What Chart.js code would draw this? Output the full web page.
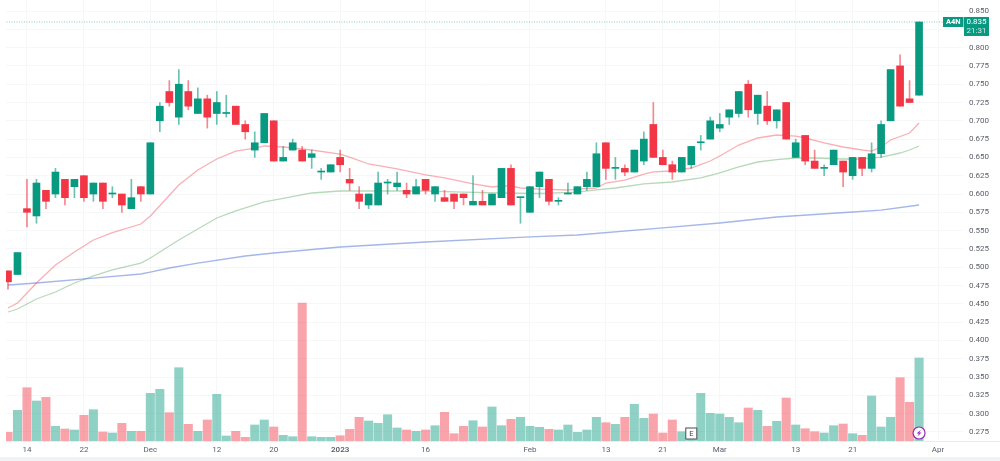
<!DOCTYPE html>
<html>
<head>
<meta charset="utf-8">
<title>A4N daily</title>
<script src="https://cdn.jsdelivr.net/npm/chart.js@4"></script>
<style>
  html, body { margin: 0; padding: 0; background: #fff; }
  canvas { display: block; }
</style>
</head>
<body>
<canvas id="chart" width="1000" height="461"></canvas>
<script>
// Daily sessions, 10 Nov 2022 to 30 Mar 2023, one entry per trading day.
const opens = [.495,.49,.58,.57,.605,.60,.62,.61,.625,.60,.615,.60,.60,.58,.61,.60,.70,.74,.705,.74,.71,.73,.71,.71,.72,.695,.66,.67,.70,.645,.66,.66,.65,.63,.63,.65,.62,.60,.585,.585,.615,.61,.605,.60,.62,.60,.595,.60,.60,.585,.59,.585,.595,.635,.595,.575,.61,.62,.59,.60,.60,.61,.61,.67,.635,.635,.63,.645,.695,.65,.64,.63,.64,.67,.675,.69,.705,.71,.75,.71,.72,.70,.725,.65,.68,.645,.635,.64,.645,.625,.65,.635,.655,.70,.775,.73,.735];
const highs = [.495,.52,.62,.62,.605,.635,.62,.62,.625,.615,.615,.61,.60,.62,.61,.67,.725,.755,.77,.755,.745,.735,.74,.735,.72,.70,.685,.71,.70,.665,.675,.665,.66,.635,.64,.66,.635,.61,.60,.63,.62,.63,.615,.62,.62,.61,.605,.60,.60,.625,.605,.60,.635,.64,.595,.61,.63,.62,.595,.615,.61,.63,.67,.67,.65,.64,.66,.685,.725,.66,.645,.65,.665,.68,.705,.71,.715,.74,.755,.735,.74,.715,.725,.675,.68,.66,.64,.66,.645,.65,.65,.67,.70,.77,.79,.755,.835];
const lows = [.47,.49,.555,.56,.58,.595,.585,.595,.59,.59,.58,.595,.575,.58,.59,.60,.685,.72,.695,.715,.71,.69,.695,.705,.695,.675,.65,.67,.645,.645,.66,.645,.635,.62,.63,.63,.605,.58,.58,.585,.60,.605,.595,.60,.60,.59,.59,.58,.585,.585,.585,.585,.595,.585,.56,.575,.595,.585,.585,.60,.60,.605,.61,.62,.62,.625,.63,.64,.65,.64,.62,.63,.635,.66,.675,.685,.695,.705,.705,.695,.695,.69,.675,.65,.64,.635,.625,.64,.61,.62,.625,.63,.65,.70,.72,.725,.735];
const closes = [.48,.52,.575,.615,.59,.63,.595,.62,.595,.615,.59,.60,.585,.595,.60,.67,.72,.725,.75,.72,.73,.705,.725,.71,.695,.685,.67,.71,.645,.65,.67,.645,.655,.63,.64,.64,.615,.59,.60,.615,.615,.615,.60,.61,.605,.61,.59,.59,.595,.59,.585,.60,.635,.585,.595,.61,.63,.59,.59,.60,.61,.62,.655,.635,.635,.63,.66,.675,.65,.64,.63,.65,.665,.67,.70,.695,.715,.74,.715,.735,.70,.715,.675,.67,.645,.635,.635,.66,.63,.65,.635,.655,.695,.77,.72,.725,.835];
const volumes = [8.7,30.7,53.3,40,43.7,14.7,12,11,25.7,31.3,9,8,17.7,9.7,9.7,47.7,51.7,28.3,73.3,16.7,9.7,21,46.7,5,9.7,3.7,16,21,14,5.7,4.3,138,4.3,3.7,3.7,5.3,11.7,23.7,20,17.7,26.3,13,11,9.7,11,15.3,28.7,7.3,14.7,20.3,14,34,15.3,21.7,23.7,14.7,13.7,11.7,11,16,8.7,11,23.7,18.3,16.7,23.7,36.7,22.7,27,8,21,9.3,8,47.7,27.7,27,23.7,18.3,33,30.7,14.7,19.7,43,16,12.3,9.3,8,15.3,17,7.3,5.7,45,14,23.7,63.3,38.7,83];

// Moving averages, sampled at the sessions listed beside each series.
const fastMaBars = [0,1,3,5,7,9,11,14,15,18,20,22,24,26,27,29,32,35,36,38,41,44,46,49,51,52,53,54,56,59,60,62,63,65,67,68,70,72,74,75,77,79,81,83,84,86,88,90,91,92,93,95,96];
const fastMa = [.4443,.4511,.4784,.503,.5208,.5372,.5471,.559,.57,.6123,.6328,.6478,.6587,.6628,.6656,.6642,.6601,.6546,.6505,.641,.6342,.626,.6219,.6137,.6096,.6109,.6109,.6082,.6068,.6055,.6068,.6082,.615,.6191,.6273,.6301,.6314,.6355,.6451,.6519,.6669,.6765,.6806,.6792,.6765,.6697,.6642,.6601,.6587,.6642,.6738,.6833,.697];
const midMaBars = [0,1,3,5,7,9,11,14,15,18,20,22,24,27,29,32,35,38,41,44,48,52,56,60,62,64,67,70,73,75,77,79,81,83,85,88,90,92,94,95,96];
const midMa = [.4388,.4429,.4566,.4661,.4784,.488,.4962,.5057,.5126,.5372,.5522,.5672,.5768,.5891,.5939,.6014,.6041,.6041,.6041,.6041,.6027,.6014,.6007,.6027,.6055,.6082,.6137,.6164,.6219,.6287,.6369,.6437,.6471,.6492,.6492,.6478,.6478,.6505,.656,.6601,.6656];
const slowMaBars = [0,3,9,14,15,17,20,25,28,35,44,55,60,69,75,81,89,92,96];
const slowMa = [.4757,.4784,.4852,.4907,.4934,.4989,.5057,.5153,.5194,.5276,.5344,.5413,.544,.5536,.5604,.5686,.5754,.5781,.585];

// Time axis labels and the sessions they sit on.
const tickBars = [2,8,15,22,28,35,44,55,63,69,75,83,89,98];
const tickLabels = ['14','22','Dec','12','20','2023','16','Feb','13','21','Mar','13','21','Apr'];

const symbol = 'A4N';
const lastPriceText = '0.835';
const countdownText = '21:31';
const earningsBar = 72;
const flashBar = 96;

const UP = '#089981', DOWN = '#F23645';
const UP_VOL = 'rgba(8,153,129,0.45)', DOWN_VOL = 'rgba(242,54,69,0.45)';
const UP_WICK = 'rgba(8,153,129,0.6)', DOWN_WICK = 'rgba(242,54,69,0.6)';
const isUp = closes.map((c, i) => c >= opens[i]);
const FONT = 'Roboto, "Liberation Sans", sans-serif';
const TEXT = '#5a5e68';
const GRID = '#f6f7f9';

const maSeries = (bars, values) => bars.map((b, i) => ({ x: b, y: values[i] }));

// Trims, last-price tags and session markers that sit on top of the panes.
const decorations = {
  id: 'decorations',
  beforeDraw(chart) {
    const { ctx, width, height } = chart;
    ctx.save();
    ctx.fillStyle = '#fff';
    ctx.fillRect(0, 0, width, height);
    ctx.fillStyle = '#f1f2f4';
    ctx.fillRect(0, 457, width, 4);
    ctx.restore();
  },
  afterDraw(chart) {
    const { ctx, scales, chartArea } = chart;
    const px = scales.x, py = scales.y;
    const yLast = py.getPixelForValue(closes[closes.length - 1]);
    ctx.save();

    // Separator between the panes and the time axis.
    ctx.fillStyle = '#ececf0';
    ctx.fillRect(chartArea.left, chartArea.bottom, chartArea.right - chartArea.left + 37, 1);

    // Symbol tag and last-price tag.
    ctx.fillStyle = UP;
    ctx.fillRect(943, yLast - 5, 20.5, 10);
    ctx.fillRect(964, yLast - 5, 25, 19);
    ctx.fillStyle = '#fff';
    ctx.textBaseline = 'middle';
    ctx.textAlign = 'center';
    ctx.font = 'bold 7.5px ' + FONT;
    ctx.fillText(symbol, 953.2, yLast + 0.3);
    ctx.font = '8px ' + FONT;
    ctx.fillText(lastPriceText, 976.5, yLast + 0.3);
    ctx.fillStyle = 'rgba(255,255,255,0.8)';
    ctx.fillText(countdownText, 976.5, yLast + 9.3);

    // Earnings flag.
    const ex = px.getPixelForValue(earningsBar);
    ctx.fillStyle = '#fff';
    ctx.strokeStyle = '#4a4d57';
    ctx.lineWidth = 1;
    ctx.fillRect(ex - 5.5, 428, 11, 11);
    ctx.strokeRect(ex - 5.5, 428, 11, 11);
    ctx.fillStyle = '#3c3f49';
    ctx.font = '7.5px ' + FONT;
    ctx.fillText('E', ex, 433.8);

    // Flash marker on the latest session.
    const fx = px.getPixelForValue(flashBar);
    ctx.beginPath();
    ctx.arc(fx, 433, 6, 0, Math.PI * 2);
    ctx.fillStyle = '#fff';
    ctx.fill();
    ctx.strokeStyle = '#9c27b0';
    ctx.lineWidth = 1.2;
    ctx.stroke();
    ctx.fillStyle = '#9c27b0';
    ctx.beginPath();
    ctx.moveTo(fx + 2, 429.5);
    ctx.lineTo(fx - 2.4, 433.6);
    ctx.lineTo(fx - 0.2, 433.6);
    ctx.lineTo(fx - 1.6, 436.6);
    ctx.lineTo(fx + 2.4, 432.4);
    ctx.lineTo(fx + 0.2, 432.4);
    ctx.closePath();
    ctx.fill();
    ctx.restore();
  }
};

// Year labels on the time axis are set slightly heavier than the rest.
const timeTickFont = ctx => ({
  family: FONT,
  size: 8,
  weight: ctx.tick && tickLabels[tickBars.indexOf(ctx.tick.value)] === '2023' ? '600' : '400'
});

// Keeps tick labels from pushing the panes in from the canvas edges.
const clearOverflow = axis => {
  axis.paddingLeft = axis.paddingRight = axis.paddingTop = axis.paddingBottom = 0;
};

new Chart(document.getElementById('chart'), {
  data: {
    datasets: [
      {
        type: 'bar', order: 1, grouped: false, barThickness: 7, minBarLength: 1,
        data: closes.map((c, i) => ({ x: i, y: [opens[i], c] })),
        backgroundColor: isUp.map(u => (u ? UP : DOWN)), borderWidth: 0, yAxisID: 'y'
      },
      {
        type: 'bar', order: 2, grouped: false, barThickness: 1,
        data: closes.map((c, i) => ({ x: i, y: [lows[i], highs[i]] })),
        backgroundColor: isUp.map(u => (u ? UP_WICK : DOWN_WICK)), borderWidth: 0, yAxisID: 'y'
      },
      {
        type: 'line', order: 3, yAxisID: 'y', pointRadius: 0, borderWidth: 1,
        borderColor: 'rgba(8,153,129,0.5)', borderDash: [1, 1.5],
        data: [{ x: -2, y: closes[closes.length - 1] }, { x: 102, y: closes[closes.length - 1] }]
      },
      { type: 'line', order: 4, yAxisID: 'y', pointRadius: 0, borderWidth: 1.3, borderColor: 'rgba(242,54,69,0.4)', data: maSeries(fastMaBars, fastMa) },
      { type: 'line', order: 4, yAxisID: 'y', pointRadius: 0, borderWidth: 1.3, borderColor: 'rgba(76,160,80,0.4)', data: maSeries(midMaBars, midMa) },
      { type: 'line', order: 4, yAxisID: 'y', pointRadius: 0, borderWidth: 1.3, borderColor: 'rgba(41,80,200,0.42)', data: maSeries(slowMaBars, slowMa) },
      {
        type: 'bar', order: 5, grouped: false, barThickness: 8.4,
        data: volumes.map((v, i) => ({ x: i, y: v })),
        backgroundColor: isUp.map(u => (u ? UP_VOL : DOWN_VOL)), borderWidth: 0, yAxisID: 'volume'
      }
    ]
  },
  options: {
    responsive: false,
    animation: false,
    events: [],
    layout: { padding: { left: 6, top: 0, right: 0, bottom: 0 } },
    plugins: { legend: { display: false }, tooltip: { enabled: false } },
    scales: {
      x: {
        type: 'linear', position: 'bottom', min: -0.21, max: 100.63, offset: false,
        afterBuildTicks(axis) { axis.ticks = tickBars.map(value => ({ value })); },
        afterFit(axis) { axis.height = 20; clearOverflow(axis); },
        grid: { color: GRID, lineWidth: 1, drawTicks: false, offset: false },
        border: { display: false },
        ticks: {
          autoSkip: false, maxRotation: 0, padding: 4, color: TEXT,
          font: timeTickFont,
          callback: value => tickLabels[tickBars.indexOf(value)]
        }
      },
      y: {
        type: 'linear', position: 'right', min: 0.26257, max: 0.86503,
        afterFit(axis) { axis.width = 37; clearOverflow(axis); },
        grid: { color: GRID, lineWidth: 1, drawTicks: false },
        border: { display: false },
        ticks: {
          stepSize: 0.025, includeBounds: false, padding: 6, color: TEXT,
          font: { family: FONT, size: 8 },
          callback: value => value.toFixed(3)
        }
      },
      volume: {
        type: 'linear', display: false, min: 0, max: 441,
        afterFit: clearOverflow
      }
    }
  },
  plugins: [decorations]
});
</script>
</body>
</html>
